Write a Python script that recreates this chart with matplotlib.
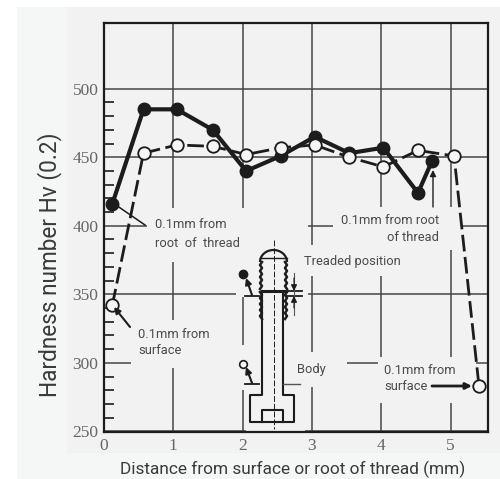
"""Hardness profile across a threaded bolt, root of thread vs surface."""

import matplotlib

matplotlib.use("Agg")
import matplotlib.pyplot as plt
from matplotlib.lines import Line2D
from matplotlib.patches import Arc, Rectangle

root_x = [0.12, 0.57, 1.05, 1.57, 2.05, 2.55, 3.04, 3.54, 4.03, 4.53, 4.73]
root_hv = [416, 485, 485, 470, 440, 451, 465, 453, 457, 424, 447]
surface_x = [0.12, 0.57, 1.05, 1.57, 2.05, 2.55, 3.04, 3.54, 4.03, 4.53, 5.05, 5.41]
surface_hv = [342, 453, 459, 458, 452, 457, 459, 450, 443, 455, 451, 283]

x_ticks = [0, 1, 2, 3, 4, 5]
y_ticks = [250, 300, 350, 400, 450, 500]
y_minor = [260, 270, 280, 290, 310, 320, 330, 340, 360, 370, 380, 390,
           410, 420, 430, 440, 460, 470, 480, 490]

BG = "#f5f6f6"
SCAN = "#f2f2f2"
INK = "#1c1c1c"
TEXT = "#4a4a4a"
LABEL = "#3a3a3a"

W, H = 500, 479


def fx(px):
    return px / W


def fy(py):
    return 1 - py / H


def seg(ax, xs, ys, lw=1.2, color=INK, ls="-", zorder=4):
    # lines of the pasted-in diagram, given in figure pixels
    ax.add_line(Line2D([fx(p) for p in xs], [fy(p) for p in ys], transform=ax.figure.transFigure,
                       color=color, lw=lw, ls=ls, zorder=zorder, clip_on=False))


def pointer(ax, start, end, lw=1.5):
    ax.annotate("", xy=(fx(end[0]), fy(end[1])), xytext=(fx(start[0]), fy(start[1])),
                xycoords="figure fraction", textcoords="figure fraction",
                arrowprops=dict(arrowstyle="-|>", color=INK, lw=lw, shrinkA=0, shrinkB=0, mutation_scale=9),
                zorder=6)


fig = plt.figure(figsize=(W / 100, H / 100), dpi=100, facecolor="white")
fig.add_artist(Rectangle((fx(17), 0), fx(483), fy(7), transform=fig.transFigure, color=BG, lw=0, zorder=-2))
fig.add_artist(Rectangle((fx(67), fy(453)), fx(433), fy(7) - fy(453), transform=fig.transFigure,
                         color=SCAN, lw=0, zorder=-1))

ax = fig.add_axes([fx(104), fy(432), fx(384), fy(23) - fy(432)])
ax.set_facecolor(SCAN)
ax.set_xlim(0, 5.54)
ax.set_ylim(249.5, 548)

ax.grid(True, color="#454545", lw=1.1, zorder=1)
ax.set_axisbelow(True)
ax.set_xticks(x_ticks)
ax.set_yticks(y_ticks)
ax.set_yticks(y_minor, minor=True)
ax.tick_params(axis="both", which="major", length=0, labelsize=12.5, labelcolor="#666666", pad=4,
               labelfontfamily="Liberation Serif")
ax.tick_params(axis="y", which="minor", direction="in", length=7, width=1.2, color=INK)
for spine in ax.spines.values():
    spine.set_linewidth(1.6)
    spine.set_color(INK)

# light patches behind annotations, pasted over the scan, hiding the grid
patches = [(147, 208, 113, 54), (236, 262, 26, 35), (246, 296, 59, 136), (260, 208, 48, 90),
           (131, 320, 76, 48), (207, 345, 43, 45), (333, 207, 130, 43), (296, 245, 109, 31),
           (290, 352, 57, 35), (378, 357, 98, 46)]
for px, py, pw, ph in patches:
    ax.add_patch(Rectangle((fx(px), fy(py + ph)), fx(pw), fy(py) - fy(py + ph), transform=fig.transFigure,
                           color=SCAN, lw=0, zorder=2, clip_on=False))

ax.plot(root_x, root_hv, color=INK, lw=3, marker="o", ms=9, zorder=4)
ax.plot(surface_x, surface_hv, color=INK, lw=2, ls=(0, (6, 2)), marker="o", ms=9,
        mfc="#f6f6f6", mec=INK, mew=1.3, zorder=5)

# key markers next to the bolt sketch
ax.plot([2.0], [365], color=INK, marker="o", ms=6, zorder=4)
ax.plot([2.0], [299], color=INK, marker="o", ms=5.5, mfc="#f6f6f6", mew=1.2, zorder=4)

# bolt sketch
seg(ax, [274, 274], [240, 429], lw=0.7, ls=(0, (6, 2)))
ax.add_patch(Arc((fx(273.5), fy(262)), fx(27), fy(0) - fy(24), theta1=0, theta2=180,
                 transform=fig.transFigure, color=INK, lw=1.6, zorder=4, clip_on=False))
seg(ax, [260, 287], [258, 258], lw=1)
seg(ax, [262, 285], [291, 291], lw=2.2)
for side, inner in ((260, 262), (287, 285)):
    ys = list(range(262, 290, 3))
    seg(ax, [side if i % 2 else side + (inner - side) for i in range(len(ys))], ys, lw=1.8)
    ys = list(range(292, 321, 3))
    seg(ax, [inner if i % 2 else inner + (1 if side > inner else -1) * 2 for i in range(len(ys))], ys, lw=1.8)
seg(ax, [262, 262, 250, 250, 294, 294, 283, 283], [291, 395, 395, 422, 422, 395, 395, 291], lw=1.5)
seg(ax, [262, 262, 283, 283], [422, 410, 410, 422], lw=1.5)
seg(ax, [245, 259], [296, 296], lw=1.3)
seg(ax, [245, 259], [384, 384], lw=1.3)
seg(ax, [283, 300], [384, 384], lw=1.0, color="#555555")
seg(ax, [287, 302], [291, 291], lw=1.3)
seg(ax, [287, 302], [296, 296], lw=1.3)
seg(ax, [294, 294], [273, 315], lw=0.8, color="#555555")
pointer(ax, (294, 278), (294, 291), lw=0.8)
pointer(ax, (294, 308), (294, 296), lw=0.8)
pointer(ax, (252, 295), (246, 278))
pointer(ax, (252, 383), (246, 367))

# leaders from the notes to the curves
seg(ax, [113, 145], [203, 225], lw=1.1, zorder=6)
pointer(ax, (130, 327), (114, 307))
pointer(ax, (433, 207), (433, 170), lw=1.0)
pointer(ax, (432, 386), (472, 386), lw=2)

notes = [
    (155, 225, "0.1mm from", "left"), (155, 243, "root  of  thread", "left"),
    (138, 334, "0.1mm from", "left"), (138, 350, "surface", "left"),
    (439, 220, "0.1mm from root", "right"), (439, 237, "of thread", "right"),
    (304, 262, "Treaded position", "left"), (297, 369, "Body", "left"),
    (384, 370, "0.1mm from", "left"), (384, 386, "surface", "left"),
]
for px, py, s, ha in notes:
    fig.text(fx(px), fy(py), s, ha=ha, va="center", fontsize=9.3, color=TEXT, family="Roboto", zorder=6)

fig.text(fx(50), fy(265), "Hardness number Hv (0.2)", rotation=90, ha="center", va="center",
         fontsize=16.3, color=LABEL, family="Roboto")
fig.text(fx(293), fy(469), "Distance from surface or root of thread (mm)", ha="center", va="center",
         fontsize=12.4, color=LABEL, family="Roboto")

fig.savefig("out.png", dpi=100)
